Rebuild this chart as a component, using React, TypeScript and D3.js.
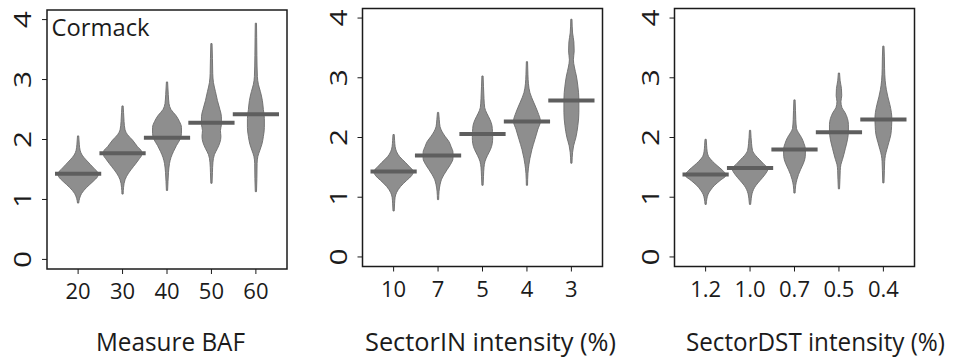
import React from "react";
import * as d3 from "d3";

// ---- data ----
const bafLabels = ["20", "30", "40", "50", "60"];
const sectorInLabels = ["10", "7", "5", "4", "3"];
const sectorDstLabels = ["1.2", "1.0", "0.7", "0.5", "0.4"];

const bafMedians = [1.43, 1.77, 2.03, 2.28, 2.42];
const sectorInMedians = [1.43, 1.7, 2.06, 2.27, 2.62];
const sectorDstMedians = [1.38, 1.49, 1.8, 2.09, 2.3];

const yTicks = [0, 1, 2, 3, 4];

// density profiles: [value, relative density width]
type Profile = [number, number][];

const bafDensity: Profile[] = [
  [[0.94, 0], [1.02, 1.5], [1.1, 3.5], [1.2, 8.5], [1.3, 15], [1.38, 19.5], [1.43, 20.5], [1.5, 17], [1.58, 12.5], [1.66, 8], [1.74, 4], [1.82, 2], [1.92, 1.2], [2.06, 0]],
  [[1.09, 0], [1.2, 1], [1.33, 2.5], [1.44, 6], [1.55, 11], [1.66, 16], [1.74, 19], [1.8, 19], [1.88, 15], [1.99, 10], [2.08, 5], [2.16, 2.5], [2.3, 1.5], [2.45, 1], [2.56, 0]],
  [[1.15, 0], [1.3, 1], [1.45, 1.5], [1.6, 2.5], [1.7, 4], [1.8, 6.5], [1.9, 9.5], [2.0, 13], [2.1, 14.5], [2.2, 14.5], [2.3, 12.5], [2.4, 9], [2.5, 4], [2.6, 2], [2.75, 1.3], [2.96, 0]],
  [[1.27, 0], [1.45, 1], [1.62, 1.5], [1.75, 3], [1.85, 6], [1.95, 8.5], [2.05, 9.5], [2.15, 9], [2.25, 10], [2.38, 10], [2.5, 8.5], [2.65, 6], [2.8, 4], [2.95, 2], [3.1, 1.3], [3.35, 1], [3.6, 0]],
  [[1.13, 0], [1.35, 1], [1.6, 1.2], [1.72, 2], [1.82, 4], [1.92, 6], [2.05, 7.5], [2.2, 8.5], [2.35, 8.5], [2.5, 7.5], [2.65, 6.5], [2.8, 4.5], [2.92, 2.5], [3.05, 1.5], [3.4, 1], [3.7, 0.8], [3.94, 0]],
];

const sectorInDensity: Profile[] = [
  [[0.77, 0], [0.9, 1], [1.0, 1.5], [1.08, 3], [1.18, 7], [1.28, 13], [1.36, 18], [1.43, 20], [1.5, 16.5], [1.58, 12], [1.68, 6], [1.76, 3], [1.85, 1.5], [1.95, 1], [2.05, 0]],
  [[0.96, 0], [1.1, 1], [1.21, 2], [1.3, 3.5], [1.38, 6], [1.46, 9], [1.55, 12.5], [1.65, 15], [1.75, 15], [1.85, 13], [1.93, 11], [2.02, 7], [2.1, 4], [2.18, 2], [2.3, 1.2], [2.42, 0]],
  [[1.2, 0], [1.35, 1], [1.5, 1.5], [1.6, 2.5], [1.7, 5], [1.8, 8], [1.9, 9.8], [2.0, 10.2], [2.1, 10], [2.2, 9.5], [2.3, 7.5], [2.4, 4.5], [2.5, 2.2], [2.65, 1.5], [2.85, 1], [3.03, 0]],
  [[1.2, 0], [1.4, 1], [1.55, 2], [1.65, 3], [1.8, 5], [1.97, 8], [2.14, 11], [2.27, 13.5], [2.42, 11], [2.58, 7], [2.75, 3], [2.9, 1.5], [3.05, 1], [3.27, 0]],
  [[1.57, 0], [1.75, 1.2], [1.86, 2.2], [2.0, 4.5], [2.2, 6.5], [2.42, 7.5], [2.64, 7.5], [2.86, 6.5], [3.03, 5], [3.18, 3], [3.3, 2], [3.45, 2.8], [3.6, 2.5], [3.75, 1.2], [3.98, 0]],
];

const sectorDstDensity: Profile[] = [
  [[0.88, 0], [0.97, 1.2], [1.05, 2.5], [1.12, 5], [1.2, 9], [1.28, 14.5], [1.37, 20.5], [1.45, 17], [1.53, 11.5], [1.6, 7], [1.68, 3], [1.77, 1.5], [1.87, 1], [1.97, 0]],
  [[0.88, 0], [0.98, 1.2], [1.06, 2], [1.13, 3.5], [1.2, 6], [1.28, 10], [1.38, 15], [1.48, 18], [1.55, 14], [1.63, 9.5], [1.7, 5.5], [1.78, 2.5], [1.9, 1.5], [2.0, 1], [2.12, 0]],
  [[1.07, 0], [1.2, 1.2], [1.3, 2.5], [1.38, 4], [1.46, 6], [1.57, 9], [1.68, 10.8], [1.8, 11], [1.9, 9.5], [2.0, 7], [2.08, 4], [2.15, 2], [2.3, 1.3], [2.45, 1], [2.63, 0]],
  [[1.14, 0], [1.3, 1], [1.45, 1.3], [1.55, 2], [1.63, 3.5], [1.72, 5], [1.82, 6.5], [1.96, 8.5], [2.1, 9.5], [2.22, 9.5], [2.32, 8.5], [2.42, 6], [2.5, 3], [2.6, 2], [2.7, 2.8], [2.82, 2.5], [2.95, 1.2], [3.08, 0]],
  [[1.24, 0], [1.45, 1], [1.6, 1.3], [1.7, 2], [1.8, 3.5], [1.92, 5.5], [2.05, 7.5], [2.18, 8.2], [2.3, 8.5], [2.42, 8], [2.55, 6.5], [2.68, 4.5], [2.8, 3], [2.95, 1.8], [3.15, 1.2], [3.35, 1], [3.53, 0]],
];

// ---- layout ----
const W = 955;
const H = 358;
const FONT = "'Open Sans', 'Noto Sans', sans-serif";
const TITLE_SX = 0.88;

type PanelCfg = {
  left: number;
  top: number;
  width: number;
  height: number;
  labels: string[];
  medians: number[];
  density: Profile[];
  title: string;
  titleX: number;
  titleWidth: number;
  note?: string;
};

const panels: PanelCfg[] = [
  { left: 47, top: 10, width: 240, height: 259, labels: bafLabels, medians: bafMedians, density: bafDensity, title: "Measure BAF", titleX: 96, titleWidth: 149, note: "Cormack" },
  { left: 362.5, top: 8.5, width: 240, height: 258, labels: sectorInLabels, medians: sectorInMedians, density: sectorInDensity, title: "SectorIN intensity (%)", titleX: 365, titleWidth: 251 },
  { left: 674.5, top: 8.5, width: 240, height: 258, labels: sectorDstLabels, medians: sectorDstMedians, density: sectorDstDensity, title: "SectorDST intensity (%)", titleX: 686, titleWidth: 259 },
];

const FILL = "#8e8e8e";
const OUTLINE = "#6c6c6c";
const MEDIAN = "#5e5e5e";

function Panel({ p }: { p: PanelCfg }) {
  const x = d3.scaleLinear().domain([-0.7, 4.7]).range([p.left, p.left + p.width]);
  const y = d3.scaleLinear().domain([-0.16, 4.16]).range([p.top + p.height, p.top]);
  const step = x(1) - x(0);
  const wScale = d3.scaleLinear().domain([0, 20.5]).range([0, 0.46 * step]);
  const bottom = p.top + p.height;

  return (
    <g>
      {p.density.map((prof, i) => {
        const cx = x(i);
        const area = d3
          .area<[number, number]>()
          .y((d) => y(d[0]))
          .x0((d) => cx - Math.max(wScale(d[1]), 0.6))
          .x1((d) => cx + Math.max(wScale(d[1]), 0.6))
          .curve(d3.curveMonotoneY);
        return (
          <path key={"v" + i} d={area(prof) || ""} fill={FILL} stroke={OUTLINE} strokeWidth={0.9} />
        );
      })}
      {p.medians.map((m, i) => (
        <line
          key={"m" + i}
          x1={x(i - 0.52)}
          x2={x(i + 0.52)}
          y1={y(m)}
          y2={y(m)}
          stroke={MEDIAN}
          strokeWidth={4}
        />
      ))}
      <rect x={p.left} y={p.top} width={p.width} height={p.height} fill="none" stroke="#1b1b1b" strokeWidth={1.5} />
      {yTicks.map((t) => (
        <g key={"yt" + t}>
          <line x1={p.left - 5} x2={p.left} y1={y(t)} y2={y(t)} stroke="#1b1b1b" strokeWidth={1} />
          <text
            transform={`translate(${p.left - 16},${y(t)}) rotate(-90) scale(1.3,1)`}
            textAnchor="middle"
            fontFamily={FONT}
            fontSize={23}
            fill="#1b1b1b"
          >
            {t}
          </text>
        </g>
      ))}
      {p.labels.map((lab, i) => (
        <g key={"xt" + i}>
          <line x1={x(i)} x2={x(i)} y1={bottom} y2={bottom + 5} stroke="#1b1b1b" strokeWidth={1} />
          <text x={x(i)} y={bottom + 30} textAnchor="middle" fontFamily={FONT} fontSize={22} fill="#1b1b1b">
            {lab}
          </text>
        </g>
      ))}
      <text
        transform={`translate(${p.titleX},351) scale(${TITLE_SX},1)`}
        fontFamily={FONT}
        fontSize={26}
        fill="#1b1b1b"
        textLength={p.titleWidth / TITLE_SX}
        lengthAdjust="spacingAndGlyphs"
      >
        {p.title}
      </text>
      {p.note && (
        <text x={p.left + 4.5} y={36} fontFamily={FONT} fontSize={24} fill="#1b1b1b" textLength={98} lengthAdjust="spacingAndGlyphs">
          {p.note}
        </text>
      )}
    </g>
  );
}

export default function App() {
  return (
    <svg width={W} height={H} style={{ position: "absolute", left: 0, top: 0, background: "#fff" }}>
      <rect width={W} height={H} fill="#fff" />
      {panels.map((p, i) => (
        <Panel key={i} p={p} />
      ))}
    </svg>
  );
}
